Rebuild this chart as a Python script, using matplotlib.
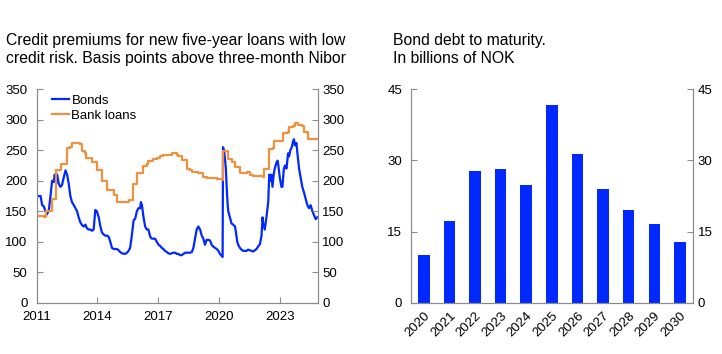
import matplotlib
matplotlib.use("Agg")
import matplotlib.pyplot as plt

# ---------------- data ----------------
bonds_year = [2011.03, 2011.20, 2011.28, 2011.36, 2011.44, 2011.52, 2011.61, 2011.69, 2011.77, 2011.85,
              2011.90, 2011.97, 2012.02, 2012.10, 2012.18, 2012.26, 2012.34, 2012.43, 2012.51, 2012.59,
              2012.67, 2012.75, 2012.84, 2012.92, 2013.00, 2013.08, 2013.16, 2013.25, 2013.33, 2013.41,
              2013.49, 2013.57, 2013.66, 2013.74, 2013.82, 2013.90, 2013.98, 2014.07, 2014.15, 2014.23,
              2014.31, 2014.39, 2014.48, 2014.56, 2014.64, 2014.72, 2014.80, 2014.97, 2015.05, 2015.13,
              2015.21, 2015.38, 2015.46, 2015.54, 2015.62, 2015.70, 2015.79, 2015.87, 2015.95, 2016.03,
              2016.11, 2016.15, 2016.20, 2016.28, 2016.36, 2016.44, 2016.52, 2016.61, 2016.69, 2016.85,
              2016.93, 2017.02, 2017.10, 2017.18, 2017.26, 2017.34, 2017.43, 2017.51, 2017.59, 2017.67,
              2017.75, 2017.84, 2017.92, 2018.00, 2018.08, 2018.16, 2018.25, 2018.33, 2018.41, 2018.57,
              2018.66, 2018.74, 2018.82, 2018.90, 2018.98, 2019.07, 2019.15, 2019.23, 2019.31, 2019.39,
              2019.48, 2019.56, 2019.64, 2019.72, 2019.80, 2019.89, 2019.97, 2020.05, 2020.13, 2020.18,
              2020.20, 2020.25, 2020.30, 2020.34, 2020.38, 2020.43, 2020.46, 2020.54, 2020.62, 2020.70,
              2020.79, 2020.84, 2020.90, 2020.95, 2021.03, 2021.11, 2021.20, 2021.28, 2021.36, 2021.44,
              2021.52, 2021.61, 2021.69, 2021.77, 2021.85, 2021.93, 2022.02, 2022.10, 2022.15, 2022.18,
              2022.26, 2022.34, 2022.43, 2022.48, 2022.54, 2022.59, 2022.64, 2022.70, 2022.75, 2022.84,
              2022.89, 2022.93, 2023.00, 2023.08, 2023.13, 2023.20, 2023.26, 2023.33, 2023.41, 2023.46,
              2023.52, 2023.59, 2023.66, 2023.70, 2023.75, 2023.82, 2023.87, 2023.95, 2024.03, 2024.11,
              2024.20, 2024.28, 2024.36, 2024.44, 2024.52, 2024.61, 2024.67, 2024.77, 2024.85]
bonds_bp = [175, 175, 160, 158, 150, 145, 152, 175, 200, 198,
            210, 195, 210, 195, 190, 193, 205, 217, 210, 195,
            175, 165, 160, 155, 150, 140, 132, 127, 125, 128,
            122, 120, 120, 118, 120, 152, 150, 140, 125, 115,
            112, 110, 110, 108, 100, 90, 88, 88, 86, 83,
            81, 80, 82, 85, 90, 110, 135, 138, 150, 155,
            155, 165, 160, 140, 125, 120, 120, 108, 105, 105,
            100, 95, 93, 90, 88, 85, 83, 81, 80, 81,
            82, 82, 80, 80, 78, 78, 80, 82, 82, 82,
            83, 90, 105, 120, 125, 120, 110, 105, 95, 103,
            103, 102, 95, 92, 90, 88, 85, 80, 77, 75,
            255, 250, 235, 220, 190, 160, 150, 140, 130, 128,
            125, 115, 100, 95, 90, 87, 85, 85, 85, 87,
            86, 85, 84, 86, 88, 92, 96, 110, 140, 130,
            120, 140, 165, 210, 200, 210, 190, 210, 220, 230,
            233, 225, 205, 190, 190, 220, 225, 220, 245, 240,
            250, 255, 265, 268, 258, 262, 245, 220, 205, 190,
            180, 170, 160, 155, 160, 150, 145, 137, 140]

loans_year = [2011.03, 2011.36, 2011.49, 2011.77, 2011.98, 2012.21, 2012.51, 2012.67, 2012.75, 2013.16,
              2013.25, 2013.41, 2013.46, 2013.74, 2013.98, 2014.23, 2014.48, 2014.80, 2014.97, 2015.54,
              2015.75, 2015.95, 2015.98, 2016.25, 2016.44, 2016.52, 2016.77, 2016.93, 2017.10, 2017.26,
              2017.51, 2017.67, 2017.92, 2018.00, 2018.16, 2018.41, 2018.57, 2018.66, 2018.98, 2019.23,
              2019.39, 2019.72, 2019.89, 2020.13, 2020.18, 2020.46, 2020.62, 2020.79, 2021.03, 2021.36,
              2021.44, 2021.52, 2021.69, 2022.02, 2022.18, 2022.21, 2022.48, 2022.67, 2022.72, 2023.16,
              2023.41, 2023.46, 2023.66, 2023.74, 2023.90, 2024.11, 2024.20, 2024.40, 2024.85]
loans_bp = [143, 140, 150, 170, 218, 228, 253, 255, 262, 260,
            248, 245, 238, 230, 218, 200, 185, 177, 165, 168,
            195, 197, 213, 225, 228, 233, 235, 238, 241, 242,
            243, 245, 243, 240, 234, 220, 218, 215, 212, 206,
            205, 204, 203, 202, 248, 235, 230, 222, 213, 215,
            214, 210, 208, 207, 206, 220, 252, 253, 265, 278,
            280, 288, 290, 295, 292, 290, 280, 268, 268]

maturity_years = ["2020", "2021", "2022", "2023", "2024", "2025",
                  "2026", "2027", "2028", "2029", "2030"]
maturity_bn = [10.0, 17.2, 27.8, 28.1, 24.8, 41.7, 31.4, 24.0, 19.5, 16.7, 12.9]

left_title = "Credit premiums for new five-year loans with low\ncredit risk. Basis points above three-month Nibor"
right_title = "Bond debt to maturity.\nIn billions of NOK"
year_ticks = [2011, 2014, 2017, 2020, 2023]
bp_ticks = [0, 50, 100, 150, 200, 250, 300, 350]
bn_ticks = [0, 15, 30, 45]

# ---------------- style ----------------
plt.rcParams["font.family"] = ["Liberation Sans", "DejaVu Sans"]

BLUE = "#0028ff"
ORANGE = "#f0913e"
GREY = "#8c8c8c"
TICKFS = 9.5
TITLEFS = 11.3

fig = plt.figure(figsize=(7.22, 3.54), dpi=100)


def style(ax):
    for s in ["left", "right", "bottom"]:
        ax.spines[s].set_color(GREY)
        ax.spines[s].set_linewidth(0.8)
    ax.spines["top"].set_visible(False)
    ax.tick_params(axis="both", direction="in", color=GREY, length=4,
                   labelsize=TICKFS, width=0.8)


def add_right_axis(ax, ticks):
    axr = ax.twinx()
    axr.set_ylim(ax.get_ylim())
    axr.set_yticks(ticks)
    style(axr)
    axr.tick_params(axis="y", pad=3.5)
    return axr


# left panel
ax1 = fig.add_axes([36.5 / 722, 51.3 / 354, 281 / 722, 213.4 / 354])
ax1.plot(bonds_year, bonds_bp, color=BLUE, lw=1.6, label="Bonds")
ax1.step(loans_year, loans_bp, where="post", color=ORANGE, lw=1.6, label="Bank loans")
ax1.set_xlim(2011, 2024.86)
ax1.set_ylim(0, 350)
ax1.set_yticks(bp_ticks)
ax1.set_xticks(year_ticks)
style(ax1)
ax1.tick_params(axis="y", pad=6.5)
ax1.tick_params(axis="x", pad=6)
add_right_axis(ax1, bp_ticks)
ax1.legend(loc="upper left", frameon=False, fontsize=TICKFS, handlelength=1.3,
           handletextpad=0.2, labelspacing=0.2, borderaxespad=0, borderpad=0,
           bbox_to_anchor=((51.7 - 36.5) / 281, 0.975))

# right panel
ax2 = fig.add_axes([411 / 722, 51.3 / 354, 281.7 / 722, 213.4 / 354])
xs = list(range(len(maturity_years)))
ax2.bar(xs, maturity_bn, width=0.45, color=BLUE)
ax2.set_xlim(-0.5, len(maturity_years) - 0.5)
ax2.set_ylim(0, 45)
ax2.set_yticks(bn_ticks)
ax2.set_xticks(xs)
ax2.set_xticklabels(maturity_years, rotation=45, ha="right", rotation_mode="anchor")
style(ax2)
ax2.tick_params(axis="x", length=0, pad=5)
ax2.tick_params(axis="y", pad=6.5)
add_right_axis(ax2, bn_ticks)

fig.text(6 / 722, 1 - 49.5 / 354, left_title, fontsize=TITLEFS, va="center", ha="left",
         linespacing=1.2)
fig.text(393 / 722, 1 - 49.5 / 354, right_title, fontsize=TITLEFS, va="center", ha="left",
         linespacing=1.2)

fig.savefig("out.png", dpi=100)
